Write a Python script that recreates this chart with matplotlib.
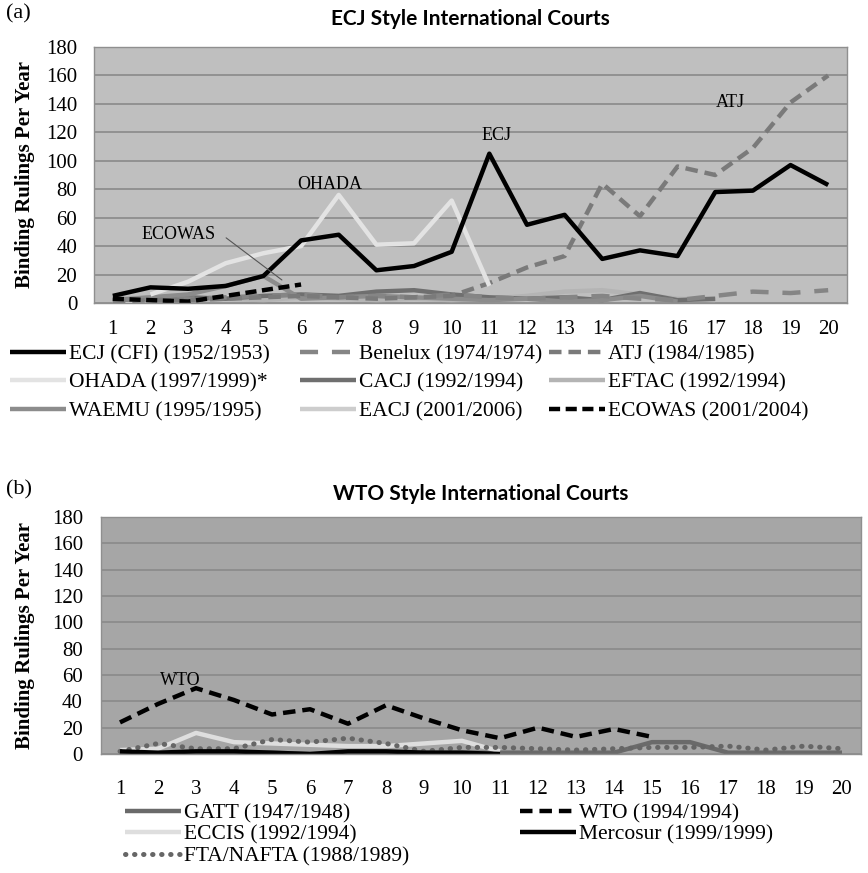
import numpy as np
import matplotlib
matplotlib.use("Agg")
import matplotlib.pyplot as plt

plt.rcParams['lines.scale_dashes'] = False
SERIF = ['Liberation Serif', 'DejaVu Serif']
nan = np.nan

# ---------------- data ----------------
years = list(range(1, 21))

# (a) ECJ style courts
ecj     = [5, 11, 10, 12, 19, 44, 48, 23, 26, 36, 105, 55, 62, 31, 37, 33, 78, 79, 97, 83]
benelux = [3, 2, 3, 4, 5, 6, 4, 5, 4, 6, 4, 3, 4, 5, 3, 2, 5, 8, 7, 9]
atj     = [1, 2, 2, 3, 4, 5, 4, 3, 4, 5, 14, 25, 33, 84, 61, 96, 90, 109, 141, 160]
ohada   = [nan, 6, 15, 28, 35, 40, 76, 41, 42, 72, 12]
cacj    = [2, 3, 4, 3, 5, 6, 5, 8, 9, 6, 4, 3, 4, 2, 7, 2, 3]
eftac   = [3, 4, 2, 3, 2, 4, 3, 2, 3, 2, 3, 5, 8, 9, 6, 3, 2]
waemu   = [2, 4, 6, 12, 19, 3, 4, 5, 4, 3, 2, 3, 1, 2, 5, 1]
eacj    = [1, 2, 3, 4, 3]
ecowas  = [3, 2, 1, 5, 9, 13]

# (b) WTO style courts
gatt     = [1, 0, 1, 1, 1, 0, 0, 1, 1, 1, 1, 1, 1, 1, 9, 9, 1, 1, 1, 1]
wto      = [24, 38, 50, 41, 30, 34, 23, 37, 27, 18, 12, 20, 13, 19, 13]
eccis    = [3, 4, 16, 9, 8, 7, 6, 6, 8, 10, 2]
mercosur = [2, 1, 2, 2, 1, 0, 2, 2, 1, 1, 0]
nafta    = [2, 8, 4, 4, 11, 9, 12, 8, 2, 5, 5, 4, 3, 4, 5, 5, 6, 3, 6, 4]

yticks = list(range(0, 181, 20))

W, H = 868, 873
fig = plt.figure(figsize=(W / 100, H / 100), dpi=100)

def make_ax(l, r, t, b, bg):
    ax = fig.add_axes([l / W, 1 - b / H, (r - l) / W, (b - t) / H])
    ax.set_facecolor(bg)
    ax.set_xlim(0.5, 20.5)
    ax.set_ylim(0, 180)
    ax.set_xticks(years)
    ax.set_yticks(yticks)
    ax.yaxis.grid(True, color='#8a8a8a', lw=1.2)
    ax.set_axisbelow(True)
    for s in ax.spines.values():
        s.set_color('#8f8f8f')
        s.set_linewidth(1.0)
    for lab in ax.get_xticklabels() + ax.get_yticklabels():
        lab.set_fontfamily(SERIF)
        lab.set_fontsize(15)
    ax.set_ylabel('Binding Rulings Per Year', family=SERIF, fontsize=15,
                  fontweight='bold')
    return ax

def xs(vals):
    return years[:len(vals)]

LW = 3.2
ax1 = make_ax(94, 847, 47, 303, '#bfbfbf')
ax1.tick_params(length=0, pad=12)
ax1.tick_params(axis='x', pad=12)
ax1.yaxis.set_label_coords(-0.079, 0.5)

styles_a = [
    ('EACJ (2001/2006)', eacj, dict(color='#cdcdcd', lw=LW)),
    ('EFTAC (1992/1994)', eftac, dict(color='#b4b4b4', lw=LW)),
    ('CACJ (1992/1994)', cacj, dict(color='#6f6f6f', lw=LW)),
    ('WAEMU (1995/1995)', waemu, dict(color='#8c8c8c', lw=LW)),
    ('Benelux (1974/1974)', benelux, dict(color='#858585', lw=LW, dashes=(13, 10))),
    ('ATJ (1984/1985)', atj, dict(color='#7a7a7a', lw=LW, dashes=(9, 5))),
    ('OHADA (1997/1999)*', ohada, dict(color='#e3e3e3', lw=LW)),
    ('ECJ (CFI) (1952/1953)', ecj, dict(color='black', lw=LW)),
    ('ECOWAS (2001/2004)', ecowas, dict(color='black', lw=LW, dashes=(8, 4))),
]
handles_a = {}
for name, vals, st in styles_a:
    ln, = ax1.plot(xs(vals), vals, solid_capstyle='butt', dash_capstyle='butt', **st)
    handles_a[name] = ln

ann = dict(family=SERIF, fontsize=13, ha='center', va='center')
ax1.text(6.75, 83, 'OHADA', **ann)
ax1.text(11.2, 118, 'ECJ', **ann)
ax1.text(17.4, 141, 'ATJ', **ann)
ax1.text(2.75, 48, 'ECOWAS', **ann)
ax1.annotate('', xy=(5.55, 15), xytext=(3.95, 47),
             arrowprops=dict(arrowstyle='-', color='#555555', lw=0.8))

ax1.set_title('ECJ Style International Courts', family=['Lato', 'DejaVu Sans'],
              fontsize=15, fontweight='bold', pad=16)
fig.text(6 / W, 1 - 14 / H, '(a)', family=SERIF, fontsize=16, va='center', ha='left')

cols_a = [
    (10, ['ECJ (CFI) (1952/1953)', 'OHADA (1997/1999)*', 'WAEMU (1995/1995)']),
    (300, ['Benelux (1974/1974)', 'CACJ (1992/1994)', 'EACJ (2001/2006)']),
    (549, ['ATJ (1984/1985)', 'EFTAC (1992/1994)', 'ECOWAS (2001/2004)']),
]
for x0, names in cols_a:
    fig.legend([handles_a[n] for n in names], names, loc='upper left',
               bbox_to_anchor=(x0 / W, 1 - 344 / H), frameon=False,
               prop=dict(family=SERIF, size=15.5), handlelength=2.6,
               handletextpad=0.15, labelspacing=0.4, borderpad=0,
               borderaxespad=0)

# ---------------- panel (b) ----------------
ax2 = make_ax(101, 861, 517, 754, '#a6a6a6')
ax2.tick_params(length=0, pad=13)
ax2.tick_params(axis='x', pad=19)
ax2.yaxis.set_label_coords(-0.087, 0.5)

styles_b = [
    ('GATT (1947/1948)', gatt, dict(color='#6a6a6a', lw=LW)),
    ('ECCIS (1992/1994)', eccis, dict(color='#dedede', lw=LW)),
    ('FTA/NAFTA (1988/1989)', nafta, dict(color='#666666', lw=3.6, dashes=(0.3, 6.2),
                                          dash_capstyle='round')),
    ('Mercosur (1999/1999)', mercosur, dict(color='black', lw=LW)),
    ('WTO (1994/1994)', wto, dict(color='black', lw=LW, dashes=(9, 5))),
]
handles_b = {}
for name, vals, st in styles_b:
    st = dict(st)
    st.setdefault('dash_capstyle', 'butt')
    ln, = ax2.plot(xs(vals), vals, solid_capstyle='butt', **st)
    handles_b[name] = ln

ax2.text(2.58, 56, 'WTO', **ann)
ax2.set_title('WTO Style International Courts', family=['Lato', 'DejaVu Sans'],
              fontsize=15, fontweight='bold', pad=12)
fig.text(6 / W, 1 - 490 / H, '(b)', family=SERIF, fontsize=16, va='center', ha='left')

cols_b = [
    (125, ['GATT (1947/1948)', 'ECCIS (1992/1994)', 'FTA/NAFTA (1988/1989)']),
    (520, ['WTO (1994/1994)', 'Mercosur (1999/1999)']),
]
for x0, names in cols_b:
    fig.legend([handles_b[n] for n in names], names, loc='upper left',
               bbox_to_anchor=(x0 / W, 1 - 803 / H), frameon=False,
               prop=dict(family=SERIF, size=15.5), handlelength=2.6,
               handletextpad=0.15, labelspacing=0.08, borderpad=0,
               borderaxespad=0)

fig.savefig('out.png', dpi=100)
